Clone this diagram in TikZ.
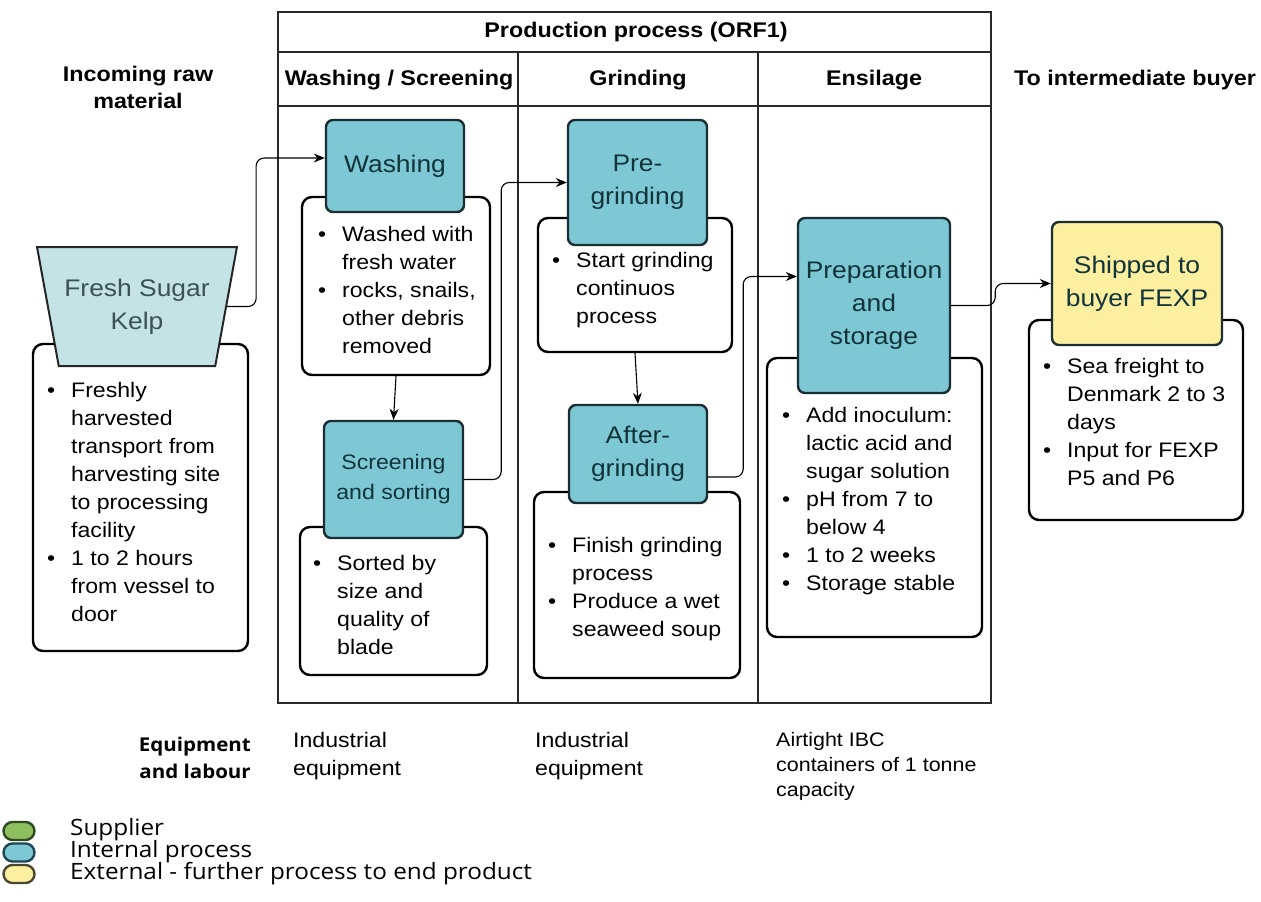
\documentclass[tikz,border=0pt]{standalone}
\usepackage{fontspec}
\setmainfont{Liberation Sans}[FakeStretch=1.1]
\newfontfamily\opensans{Open Sans}[FakeStretch=1.08]
\usetikzlibrary{shapes.geometric,arrows.meta,calc}

\definecolor{procfill}{HTML}{7DC8D4}
\definecolor{procedge}{HTML}{1B2F32}
\definecolor{proctext}{HTML}{10343A}
\definecolor{kelpfill}{HTML}{C4E3E5}
\definecolor{kelptext}{HTML}{3A5255}
\definecolor{shipfill}{HTML}{FCEFA0}
\definecolor{tablegray}{HTML}{2A2A2A}
\definecolor{supfill}{HTML}{8DBF5E}
\definecolor{supedge}{HTML}{2F4A23}
\definecolor{intedge}{HTML}{1F4652}
\definecolor{extedge}{HTML}{4A4830}

% bullet and continuation indent for the note lists
\newcommand\bul{\makebox[24pt][l]{\textbullet}}
\newcommand\ind{\hspace*{24pt}}

\begin{document}
\begin{tikzpicture}[x=1pt,y=-1pt,
  tableline/.style={draw=tablegray, line width=1.5pt},
  note/.style={draw=black, line width=2.4pt, rounded corners=10pt, fill=white, inner sep=0pt},
  proc/.style={draw=procedge, line width=2.4pt, rounded corners=7pt, fill=procfill,
    text=proctext, align=center, inner sep=0pt, font=\fontsize{24}{33}\selectfont},
  conn/.style={draw=black, line width=1.1pt, rounded corners=8pt, -{Stealth[length=11pt,width=9pt]}},
  notetext/.style={anchor=north west, inner sep=0pt, align=left, font=\fontsize{21}{28}\selectfont},
  hdr/.style={font=\bfseries\fontsize{21.2}{27}\selectfont, align=center, inner sep=0pt},
  equip/.style={anchor=west, align=left, inner sep=0pt, font=\fontsize{21}{28}\selectfont},
  pill/.style={minimum width=31pt, minimum height=18pt, rounded corners=9pt, line width=2.4pt, inner sep=0pt},
  legend/.style={anchor=west, inner sep=0pt, font=\opensans\fontsize{22.5}{22}\selectfont}
]
\useasboundingbox (0,0) rectangle (1261,902);
\fill[white] (0,0) rectangle (1261,902);

% production process table
\draw[tableline] (278,12) rectangle (991,703);
\draw[tableline] (278,52) -- (991,52);
\draw[tableline] (278,106) -- (991,106);
\draw[tableline] (518,52) -- (518,703);
\draw[tableline] (758,52) -- (758,703);

% column headings
\node[hdr] (hprod) at (636,32) {Production process (ORF1)};
\node[hdr] (hwash) at (399,80) {Washing / Screening};
\node[hdr] (hgrind) at (638,80) {Grinding};
\node[hdr] (hens) at (874,80) {Ensilage};
\node[hdr] (hin) at (138,87) {Incoming raw\\material};
\node[hdr] (hout) at (1135,80) {To intermediate buyer};

% note boxes
\node[note, minimum width=215pt, minimum height=307pt] (kelpnote) at (140.5,497.5) {};
\node[note, minimum width=188pt, minimum height=178pt] (washnote) at (396,286) {};
\node[note, minimum width=187pt, minimum height=148pt] (screennote) at (393.5,601) {};
\node[note, minimum width=194pt, minimum height=134pt] (prenote) at (635,285) {};
\node[note, minimum width=206pt, minimum height=186pt] (afternote) at (637,585) {};
\node[note, minimum width=215pt, minimum height=279pt] (prepnote) at (874.5,497.5) {};
\node[note, minimum width=214pt, minimum height=200pt] (shipnote) at (1136,420) {};

% note texts
\node[notetext] (kelptxt) at (47,382) {\bul Freshly\\ \ind harvested\\ \ind transport from\\ \ind harvesting site\\ \ind to processing\\ \ind facility\\ \bul 1 to 2 hours\\ \ind from vessel to\\ \ind door};
\node[notetext] (washtxt) at (318,226) {\bul Washed with\\ \ind fresh water\\ \bul rocks, snails,\\ \ind other debris\\ \ind removed};
\node[notetext] (screentxt) at (313,555) {\bul Sorted by\\ \ind size and\\ \ind quality of\\ \ind blade};
\node[notetext] (pretxt) at (552,252) {\bul Start grinding\\ \ind continuos\\ \ind process};
\node[notetext] (aftertxt) at (548,537) {\bul Finish grinding\\ \ind process\\ \bul Produce a wet\\ \ind seaweed soup};
\node[notetext] (preptxt) at (782,407) {\bul Add inoculum:\\ \ind lactic acid and\\ \ind sugar solution\\ \bul pH from 7 to\\ \ind below 4\\ \bul 1 to 2 weeks\\ \bul Storage stable};
\node[notetext] (shiptxt) at (1043,358) {\bul Sea freight to\\ \ind Denmark 2 to 3\\ \ind days\\ \bul Input for FEXP\\ \ind P5 and P6};

% supplier input
\node[trapezium, trapezium stretches=true, shape border rotate=180,
  trapezium left angle=70, trapezium right angle=70,
  minimum width=200pt, minimum height=119pt, inner sep=0pt,
  draw=black!85, line width=2pt, fill=kelpfill, text=kelptext, align=center,
  font=\fontsize{24}{33}\selectfont] (kelp) at (137,306.5) {Fresh Sugar\\Kelp};

% process steps
\node[proc, minimum width=138pt, minimum height=92pt] (wash) at (395,166) {Washing};
\node[proc, minimum width=139pt, minimum height=117pt, font=\fontsize{21}{30}\selectfont] (screen) at (393.5,479.5) {Screening\\and sorting};
\node[proc, minimum width=139pt, minimum height=125pt] (pregrind) at (637.5,182.5) {Pre-\\grinding};
\node[proc, minimum width=138pt, minimum height=98pt] (after) at (638,454) {After-\\grinding};
\node[proc, minimum width=152pt, minimum height=175pt] (prep) at (874,305.5) {Preparation\\and\\storage};
\node[proc, minimum width=170pt, minimum height=123pt, fill=shipfill] (ship) at (1137,283.5) {Shipped to\\buyer FEXP};

% flow connectors
\draw[conn] (kelp.east) -- ($(kelp.east)+(29,0)$) |- ([yshift=8pt]wash.west);
\draw[conn] (washnote.south) -- (screen.north);
\draw[conn] (screen.east) -- ($(screen.east)+(37,0)$) |- (pregrind.west);
\draw[conn] (prenote.south) -- (after.north);
\draw[conn] ([yshift=-23pt]after.east) -- ($([yshift=-23pt]after.east)+(35,0)$) |- ([yshift=29pt]prep.west);
\draw[conn] (prep.east) -- ($(prep.east)+(44,0)$) |- (ship.west);

% equipment row
\node[anchor=east, align=right, inner sep=0pt, font=\opensans\bfseries\fontsize{19}{27}\selectfont] (eqlab) at (251,758) {Equipment\\and labour};
\node[equip] (eqwash) at (293,756) {Industrial\\equipment};
\node[equip] (eqgrind) at (535,756) {Industrial\\equipment};
\node[equip, font=\fontsize{19.5}{25}\selectfont] (eqens) at (776,766) {Airtight IBC\\containers of 1 tonne\\capacity};

% legend
\node[pill, fill=supfill, draw=supedge] (lgsup) at (19,831) {};
\node[pill, fill=procfill, draw=intedge] (lgint) at (19,852.5) {};
\node[pill, fill=shipfill, draw=extedge] (lgext) at (19,874) {};
\node[legend] (lgsuptxt) at (70,830) {Supplier};
\node[legend] (lginttxt) at (70,852) {Internal process};
\node[legend] (lgexttxt) at (70,874) {External - further process to end product};
\end{tikzpicture}
\end{document}
